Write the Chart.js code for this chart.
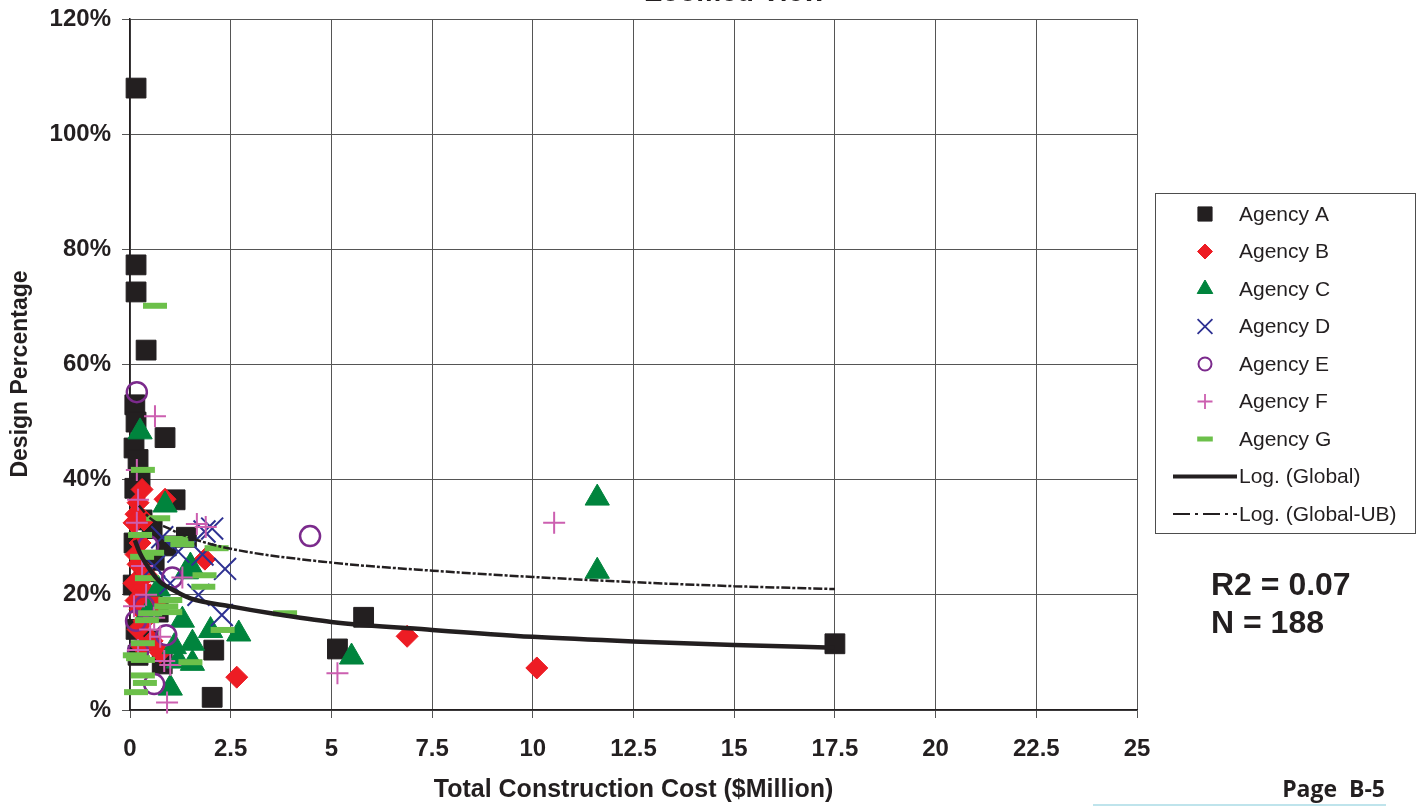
<!DOCTYPE html>
<html>
<head>
<meta charset="utf-8">
<script src="https://cdn.jsdelivr.net/npm/chart.js@4.4.1/dist/chart.umd.min.js"></script>
<style>
  html, body { margin: 0; padding: 0; background: #ffffff; }
  #wrap { position: relative; width: 1424px; height: 806px; }
</style>
</head>
<body>
<div id="wrap"><canvas id="chart"></canvas></div>
<script>
// Design percentage (%) against total construction cost ($ million), one array per agency
const agencyA = [[0.15,108],[0.15,77.3],[0.15,72.6],[0.4,62.5],[0.87,47.3],[1.12,36.5],[1.4,30],[5.8,16.1],[5.15,10.6],[2.08,10.4],[2.04,2.2],[17.5,11.5],
  [0.12,53],[0.15,50],[0.1,45.5],[0.2,43.5],[0.25,40],[0.12,38.5],[0.3,33],[0.55,31.5],[0.9,28.5],[0.1,29],[0.6,26],[0.35,24],[0.08,21.7],[0.3,19],[0.7,17],[0.15,14],[0.45,12],[0.2,9.5],[0.8,8],[0.55,19.5]];
const agencyB = [[6.88,12.8],[10.1,7.3],[2.65,5.7],[1.86,26.2],[0.87,36.6],[0.3,38.3],[0.2,36],[0.15,34],[0.1,32.5],[0.35,33],[0.25,29],[0.15,27],[0.2,25.3],[0.4,23.5],[0.1,22],[0.3,21],[0.5,20],[0.15,19],[0.25,17.5],[0.6,18.5],[0.35,15.5],[0.2,14],[0.55,12],[0.75,10],[0.3,11]];
const agencyC = [[11.6,36.8],[11.6,24.1],[5.5,9.2],[0.25,48.3],[0.87,35.6],[1.5,25],[1.4,24],[2.7,13.2],[2.0,13.8],[1.3,15.6],[1.55,11.6],[1.1,11],[1.55,8.1],[1.0,3.8],[0.7,21],[0.45,17],[1.2,8.5]];
const agencyD = [[2.04,31.5],[1.85,31],[2.36,24.5],[2.28,16.5],[1.8,27],[0.8,30],[1.2,27.5],[0.6,25],[1.0,22],[1.7,20]];
const agencyE = [[4.47,30.2],[0.17,55.2],[1.05,23],[0.45,28.5],[0.15,15.5],[0.2,10.2],[0.6,4.5],[0.35,18],[0.9,13]];
const agencyF = [[10.53,32.5],[5.15,6.4],[0.62,51],[1.88,31.8],[1.66,32.3],[0.17,41.7],[0.2,36.5],[0.17,32.5],[0.1,18],[0.5,14],[0.75,12.7],[1.0,7.8],[0.92,1.3],[0.2,10.4],[1.3,23],[0.4,20],[0.6,16],[0.3,25],[0.85,8.5]];
const agencyG = [[0.62,70.2],[0.32,41.7],[3.85,16.8],[0.7,33.3],[0.25,30.4],[1.15,29.7],[1.3,28.8],[2.15,28.1],[0.55,27.3],[0.3,26.6],[0.42,22.9],[1.0,19.1],[1.0,17],[0.5,16.8],[0.42,15.6],[0.32,11.6],[0.12,9.5],[0.32,8.7],[0.32,6],[0.37,4.7],[0.15,3.1],[1.5,8.3],[1.82,21.4],[1.85,23.4],[2.3,13.9],[0.2,9],[0.9,18]];

// Logarithmic trend curves, sampled along the cost axis
const trendCost   = [0.12, 0.25, 0.5, 0.75, 1, 1.5, 2.5, 3.5, 5, 7.5, 10, 12.5, 15, 17.5];
const trendGlobal = [29.5, 27.2, 24.3, 22.2, 21.1, 19.4, 18.0, 16.8, 15.3, 13.9, 12.7, 11.9, 11.3, 10.8];
const ubCost      = [0.22, 0.5, 1, 1.5, 2.5, 5, 7.5, 10, 12.5, 15, 17.5];
const trendUB     = [35.5, 33.3, 31.4, 29.9, 28.0, 25.6, 24.2, 23.1, 22.2, 21.5, 21.0];

const xTickLabels = ['0','2.5','5','7.5','10','12.5','15','17.5','20','22.5','25'];
const yTickLabels = ['%','20%','40%','60%','80%','100%','120%'];

const statsLines = ['R2 = 0.07', 'N = 188'];

const toXY = arr => arr.map(p => ({ x: p[0], y: p[1] }));
const zipXY = (xs, ys) => xs.map((x, i) => ({ x: x, y: ys[i] }));

const FONT = '"Liberation Sans", Arial, Helvetica, sans-serif';
const INK = '#231f20';

const pointSets = [
  { label: 'Agency A', data: agencyA, style: 'rect',     radius: 14, lw: 1,   fill: INK,       stroke: INK,       lr: 10,  llw: 1 },
  { label: 'Agency B', data: agencyB, style: 'rectRot',  radius: 11, lw: 1,   fill: '#ed1c24', stroke: '#ed1c24', lr: 7.5, llw: 1 },
  { label: 'Agency C', data: agencyC, style: 'triangle', radius: 14, lw: 1,   fill: '#00843d', stroke: '#00843d', lr: 9,   llw: 1 },
  { label: 'Agency D', data: agencyD, style: 'crossRot', radius: 15.5, lw: 2, fill: 'rgba(0,0,0,0)', stroke: '#2e3192', lr: 10.5, llw: 1.8 },
  { label: 'Agency E', data: agencyE, style: 'circle',   radius: 10, lw: 2.5, fill: 'rgba(0,0,0,0)', stroke: '#7b2a8c', lr: 6.5, llw: 2 },
  { label: 'Agency F', data: agencyF, style: 'cross',    radius: 11, lw: 2,   fill: 'rgba(0,0,0,0)', stroke: '#cc5fb0', lr: 7.5, llw: 1.8 },
  { label: 'Agency G', data: agencyG, style: 'line',     radius: 12, lw: 6,   fill: '#6cc04a', stroke: '#6cc04a', lr: 7.8, llw: 5 }
];

const datasets = pointSets.map((s, i) => ({
  label: s.label,
  data: toXY(s.data),
  pointStyle: s.style,
  pointRadius: s.radius,
  pointBorderWidth: s.lw,
  pointBackgroundColor: s.fill,
  pointBorderColor: s.stroke,
  showLine: false,
  clip: false,
  order: 10 - i
}));

datasets.push({
  label: 'Log. (Global)',
  data: zipXY(trendCost, trendGlobal),
  showLine: true,
  pointRadius: 0,
  borderColor: INK,
  borderWidth: 4.5,
  cubicInterpolationMode: 'monotone',
  fill: false,
  order: 1
});
datasets.push({
  label: 'Log. (Global-UB)',
  data: zipXY(ubCost, trendUB),
  showLine: true,
  pointRadius: 0,
  borderColor: INK,
  borderWidth: 2.5,
  borderDash: [9, 2, 3, 2],
  cubicInterpolationMode: 'monotone',
  fill: false,
  order: 0
});

// Side legend, statistics, axis title, page heading and footer
const decorPlugin = {
  id: 'decor',
  afterDraw(chart) {
    const ctx = chart.ctx;
    ctx.save();

    // heading (sits mostly above the canvas edge)
    ctx.fillStyle = INK;
    ctx.font = 'bold 28px ' + FONT;
    ctx.textAlign = 'center';
    ctx.textBaseline = 'alphabetic';
    ctx.fillText('Zoomed View', 735, 1);

    // vertical axis title
    ctx.save();
    ctx.translate(21, 374);
    ctx.rotate(-Math.PI / 2);
    ctx.font = 'bold 23px ' + FONT;
    ctx.textAlign = 'center';
    ctx.textBaseline = 'middle';
    ctx.fillText('Design Percentage', 0, 0);
    ctx.restore();

    // legend box
    const bx = 1155, by = 193, bw = 260, bh = 340;
    ctx.fillStyle = '#ffffff';
    ctx.fillRect(bx, by, bw, bh);
    ctx.strokeStyle = '#4d4d4d';
    ctx.lineWidth = 1;
    ctx.strokeRect(bx + 0.5, by + 0.5, bw, bh);

    const rowY = i => 214 + i * 37.5;
    const markX = 1205, textX = 1239;
    ctx.font = '21px ' + FONT;
    ctx.textAlign = 'left';
    ctx.textBaseline = 'middle';

    pointSets.forEach((s, i) => {
      const y = rowY(i);
      ctx.save();
      ctx.fillStyle = s.fill;
      ctx.strokeStyle = s.stroke;
      ctx.lineWidth = s.llw;
      Chart.helpers.drawPoint(ctx, { pointStyle: s.style, rotation: 0, radius: s.lr, borderWidth: s.llw }, markX, y);
      ctx.restore();
      ctx.fillStyle = INK;
      ctx.fillText(s.label, textX, y + 1);
    });

    // trend line samples
    let y = rowY(7);
    ctx.strokeStyle = INK;
    ctx.lineWidth = 4;
    ctx.setLineDash([]);
    ctx.beginPath(); ctx.moveTo(1173, y); ctx.lineTo(1237, y); ctx.stroke();
    ctx.fillStyle = INK;
    ctx.fillText('Log. (Global)', textX, y + 1);

    y = rowY(8);
    ctx.lineWidth = 2;
    ctx.setLineDash([17, 5, 3, 5]);
    ctx.beginPath(); ctx.moveTo(1173, y); ctx.lineTo(1237, y); ctx.stroke();
    ctx.setLineDash([]);
    ctx.fillText('Log. (Global-UB)', textX, y + 1);

    // statistics
    ctx.font = 'bold 32px ' + FONT;
    ctx.textBaseline = 'alphabetic';
    statsLines.forEach((t, i) => ctx.fillText(t, 1211, 595 + i * 38));

    // footer
    ctx.font = 'bold 23px "Open Sans", "Noto Sans", sans-serif';
    ctx.textAlign = 'right';
    ctx.fillText('Page  B-5', 1385, 797);
    ctx.strokeStyle = '#bfe4ec';
    ctx.lineWidth = 2;
    ctx.beginPath(); ctx.moveTo(1093, 805); ctx.lineTo(1386, 805); ctx.stroke();

    ctx.restore();
  }
};

new Chart(document.getElementById('chart'), {
  type: 'scatter',
  data: { datasets: datasets },
  options: {
    responsive: true,
    maintainAspectRatio: false,
    animation: false,
    layout: { padding: { top: 19, right: 287, bottom: 0, left: 0 } },
    plugins: {
      legend: { display: false },
      tooltip: { enabled: false },
      title: { display: false }
    },
    scales: {
      x: {
        type: 'linear',
        min: 0, max: 25,
        ticks: {
          stepSize: 2.5,
          autoSkip: false,
          maxRotation: 0,
          padding: 17,
          color: INK,
          font: { family: FONT, size: 24, weight: 'bold' },
          callback: (v, i) => xTickLabels[i]
        },
        grid: { color: '#555555', lineWidth: 1, tickLength: 8, drawTicks: true },
        border: { color: INK, width: 1.5 },
        title: {
          display: true,
          text: 'Total Construction Cost ($Million)',
          color: INK,
          font: { family: FONT, size: 25, weight: 'bold' },
          padding: { top: 0, bottom: 1 }
        },
        afterFit(scale) { scale.height = 96; scale.paddingLeft = 0; scale.paddingRight = 0; }
      },
      y: {
        type: 'linear',
        min: 0, max: 120,
        ticks: {
          stepSize: 20,
          padding: 11,
          color: INK,
          font: { family: FONT, size: 24, weight: 'bold' },
          callback: (v, i) => yTickLabels[i]
        },
        grid: { color: '#555555', lineWidth: 1, tickLength: 8, drawTicks: true },
        border: { color: INK, width: 1.5 },
        afterFit(scale) { scale.width = 130; scale.paddingTop = 0; scale.paddingBottom = 0; }
      }
    }
  },
  plugins: [decorPlugin]
});
</script>
</body>
</html>
